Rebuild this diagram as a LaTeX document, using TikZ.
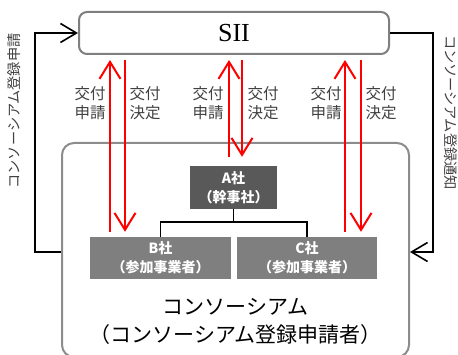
\documentclass[tikz,border=0pt]{standalone}
\usepackage{fontspec}
\setmainfont{Liberation Serif}
\newfontfamily\jp{Noto Sans CJK JP}
\usetikzlibrary{arrows.meta}
\definecolor{lblgray}{HTML}{404040}
\definecolor{boxA}{HTML}{595959}
\definecolor{boxB}{HTML}{7F7F7F}
\definecolor{frame}{HTML}{8C8C8C}
\begin{document}
\begin{tikzpicture}[x=1pt,y=-1pt,
  lbl/.style={font=\jp\fontsize{15.5}{18.5}\selectfont, text=lblgray, align=center, inner sep=0},
  vlbl/.style={font=\jp\fontsize{14.2}{16}\selectfont, text=lblgray, inner sep=0},
  member/.style={fill=#1, draw=none, text=white, align=center, inner sep=0,
     font=\jp\bfseries\fontsize{14}{19}\selectfont},
  rarr/.style={draw=red, line width=2pt, -{Straight Barb[length=17pt,width=21pt,line width=2pt]}},
  barr/.style={draw=black, line width=1.6pt, -{Straight Barb[length=16pt,width=19pt,line width=1.6pt]}},
  conn/.style={draw=black, line width=1.6pt}]
\useasboundingbox (0,0) rectangle (458,355);
% consortium frame
\node[draw=frame, line width=2pt, rounded corners=12pt, minimum width=347pt, minimum height=214pt, inner sep=0] (cons) at (235.5,250) {};
\node[align=center, inner sep=0, font=\jp\fontsize{21}{27.5}\selectfont] (constext) at (235.5,321.5) {コンソーシアム\\（コンソーシアム登録申請者）};
% SII
\node[draw=boxB, line width=2pt, rounded corners=8pt, minimum width=310pt, minimum height=42pt, inner sep=0, font=\fontsize{26}{30}\selectfont] (sii) at (234,33) {SII};
% members
\node[member=boxA, minimum width=87pt, minimum height=43pt] (A) at (233.5,187.5) {A社\\（幹事社）};
\node[member=boxB, minimum width=141pt, minimum height=42pt] (B) at (160.5,258) {B社\\（参加事業者）};
\node[member=boxB, minimum width=140pt, minimum height=42pt] (C) at (307,258) {C社\\（参加事業者）};
\coordinate (j) at (233.5,222);
\draw[conn] (A) -- (j);
\draw[conn] (B.north) |- (j) -| (C.north);
% outer connectors
\coordinate (lc) at (35,252);
\coordinate (rc) at (433,252);
\draw[barr] (cons.west |- lc) -- (lc) |- (sii.west);
\draw[barr] (sii.east) -| (rc) -- (cons.east |- rc);
\node[vlbl, rotate=90] (lv) at (14,111) {コンソーシアム登録申請};
\node[vlbl, rotate=-90] (rv) at (451,112.5) {コンソーシアム登録通知};
% red arrows
\draw[rarr, shorten <=5pt, shorten >=5pt] (B.north -| 110,0) -- (sii.south -| 110,0);
\draw[rarr, shorten <=5pt, shorten >=5pt] (sii.south -| 125,0) -- (B.north -| 125,0);
\draw[rarr, shorten <=9pt, shorten >=5pt] (A.north -| 229,0) -- (sii.south -| 229,0);
\draw[rarr, shorten <=5pt, shorten >=9pt] (sii.south -| 242,0) -- (A.north -| 242,0);
\draw[rarr, shorten <=5pt, shorten >=5pt] (C.north -| 345,0) -- (sii.south -| 345,0);
\draw[rarr, shorten <=5pt, shorten >=5pt] (sii.south -| 361,0) -- (C.north -| 361,0);
% labels
\node[lbl] (l1) at (90,103) {交付\\申請};
\node[lbl] (l2) at (145,103) {交付\\決定};
\node[lbl] (l3) at (208,103) {交付\\申請};
\node[lbl] (l4) at (263,103) {交付\\決定};
\node[lbl] (l5) at (326,103) {交付\\申請};
\node[lbl] (l6) at (381,103) {交付\\決定};
\end{tikzpicture}
\end{document}
